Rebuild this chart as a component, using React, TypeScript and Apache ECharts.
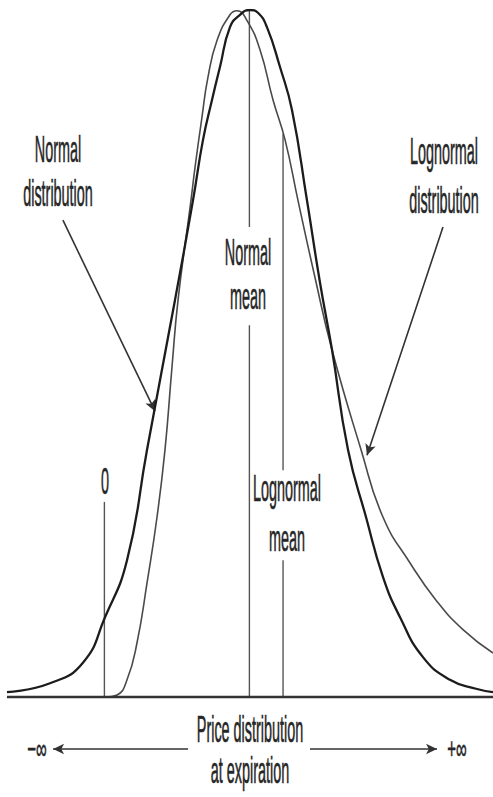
import React, { useEffect, useRef } from "react";
import * as echarts from "echarts";

// Price axis (arbitrary units: 0 = zero price, 100 = normal mean); density as % of the normal peak
const normalPrice = [-67.2, -37.5, -14.8, 0.4, 15.6, 29.4, 48.7, 61.1, 68.0, 74.2, 79.7, 86.6, 93.5, 100.4, 105.9, 112.1, 121.1, 129.4, 139.7, 148.7, 157.0, 168.0, 180.4, 192.1, 203.9, 219.7, 238.3, 256.3, 268.0];
const normalDensity = [0.7, 2.0, 5.0, 11.6, 19.9, 36.0, 57.8, 72.3, 81.1, 86.9, 91.7, 97.5, 99.3, 100, 99.6, 97.5, 91.7, 85.4, 72.3, 60.3, 50.5, 36.0, 26.2, 17.5, 11.6, 5.8, 2.5, 1.2, 0.7];

const lognormalPrice = [0.4, 8.7, 15.6, 22.5, 29.4, 36.3, 41.8, 46.6, 50.8, 59.7, 62.5, 67.3, 71.4, 77.7, 86.6, 91.4, 98.3, 107.3, 116.3, 124.6, 133.5, 145.2, 157.0, 177.0, 192.1, 210.8, 228.7, 247.3, 268.0];
const lognormalDensity = [0, 0.3, 2.5, 7.9, 16.6, 26.2, 36.0, 48.0, 57.8, 72.3, 77.1, 84.4, 90.2, 95.6, 99.3, 99.9, 98.5, 94.2, 86.9, 81.1, 72.3, 61.1, 50.5, 36.0, 26.2, 19.5, 14.1, 9.8, 6.4];

const zeroPrice = 0;
const normalMean = 100;
const lognormalMean = 123.2;

const labelTexts = {
  normalDist: ["Normal", "distribution"],
  lognormalDist: ["Lognormal", "distribution"],
  normalMean: ["Normal", "mean"],
  lognormalMean: ["Lognormal", "mean"],
  zero: "0",
  axis: ["Price distribution", "at expiration"],
  minusInf: "−∞",
  plusInf: "+∞",
};

const FONT = "'Liberation Sans', Arial, Helvetica, sans-serif";
const TEXT_COLOR = "#262626";

function txt(text: string, x: number, y: number, size = 36, sx = 0.4) {
  return {
    type: "text",
    x,
    y,
    scaleX: sx,
    z: 20,
    silent: true,
    style: {
      text,
      fontSize: size,
      fontFamily: FONT,
      fill: TEXT_COLOR,
      stroke: TEXT_COLOR,
      lineWidth: 0.6,
      align: "center",
      verticalAlign: "middle",
      textAlign: "center",
      textVerticalAlign: "middle",
    },
  };
}

function seg(x: number, y1: number, y2: number) {
  return {
    type: "line",
    data: [[x, y1], [x, y2]],
    symbol: "none",
    silent: true,
    lineStyle: { color: "#555", width: 1.4 },
    z: 3,
  };
}

export default function App() {
  const ref = useRef<HTMLDivElement>(null);
  useEffect(() => {
    if (!ref.current) return;
    const chart = echarts.init(ref.current, null, { renderer: "svg" });
    const arrowStyle = { color: "#333", width: 1.6, type: "solid" };
    chart.setOption({
      animation: false,
      backgroundColor: "#fff",
      grid: { left: 0, right: 0, top: 10, bottom: 31.3 },
      xAxis: { type: "value", min: -72, max: 268, show: false },
      yAxis: { type: "value", min: -10, max: 100, show: false },
      series: [
        {
          name: "Normal distribution",
          type: "line",
          data: normalPrice.map((p, i) => [p, normalDensity[i]]),
          smooth: 0.5,
          symbol: "none",
          lineStyle: { color: "#1c1c1c", width: 2.3 },
          z: 5,
        },
        {
          name: "Lognormal distribution",
          type: "line",
          data: lognormalPrice.map((p, i) => [p, lognormalDensity[i]]),
          smooth: 0.5,
          symbol: "none",
          lineStyle: { color: "#4a4a4a", width: 1.6 },
          z: 4,
        },
        {
          name: "baseline",
          type: "line",
          data: [[-67.2, 0], [268, 0]],
          symbol: "none",
          lineStyle: { color: "#333", width: 2.6 },
          z: 6,
        },
        seg(normalMean, 100, 68.4),
        seg(normalMean, 54.1, 0),
        seg(lognormalMean, 82, 33.0),
        seg(lognormalMean, 19.9, 0),
        seg(zeroPrice, 28.4, 0),
        {
          name: "arrows",
          type: "line",
          data: [],
          markLine: {
            silent: true,
            symbol: ["none", "arrow"],
            symbolSize: [8, 11],
            label: { show: false },
            lineStyle: arrowStyle,
            data: [
              [{ coord: [-28.6, 69.4] }, { coord: [34.9, 41.6] }],
              [{ coord: [233.5, 68.4] }, { coord: [181.1, 35.2] }],
              [{ coord: [57.7, -7.57] }, { coord: [-35.4, -7.57] }],
              [{ coord: [141.8, -7.57] }, { coord: [229.4, -7.57] }],
            ],
          },
        },
      ],
      graphic: [
        txt(labelTexts.normalDist[0], 58, 150),
        txt(labelTexts.normalDist[1], 58, 194),
        txt(labelTexts.lognormalDist[0], 444, 152),
        txt(labelTexts.lognormalDist[1], 444, 201),
        txt(labelTexts.normalMean[0], 248, 253),
        txt(labelTexts.normalMean[1], 248, 297),
        txt(labelTexts.lognormalMean[0], 287, 489),
        txt(labelTexts.lognormalMean[1], 287, 539),
        txt(labelTexts.zero, 105, 482),
        txt(labelTexts.axis[0], 250, 730),
        txt(labelTexts.axis[1], 250, 771),
        txt(labelTexts.minusInf, 37, 749, 30, 0.5),
        txt(labelTexts.plusInf, 457, 749, 30, 0.5),
      ],
    });
    return () => chart.dispose();
  }, []);
  return (
    <div
      ref={ref}
      style={{ position: "absolute", left: 0, top: 0, width: 493, height: 797 }}
    />
  );
}
